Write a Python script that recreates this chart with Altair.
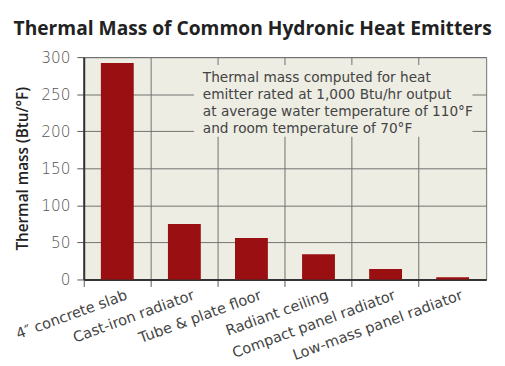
import altair as alt
import pandas as pd

categories = ["4″ concrete slab", "Cast-iron radiator", "Tube & plate floor",
              "Radiant ceiling", "Compact panel radiator", "Low-mass panel radiator"]
values = [292, 75, 56, 34, 14, 3]
note_lines = ["Thermal mass computed for heat",
              "emitter rated at 1,000 Btu/hr output",
              "at average water temperature of 110°F",
              "and room temperature of 70°F"]

df = pd.DataFrame({"emitter": categories, "mass": values})

FONT = "DejaVu Sans"
TFONT = "Open Sans"
BG = "#edede3"
GRID = "#707070"
W, H = 409, 226

xenc = alt.X("emitter:N", sort=categories, title=None,
             scale=alt.Scale(paddingInner=0, paddingOuter=0),
             axis=alt.Axis(bandPosition=0, grid=True, gridColor=GRID, gridWidth=1,
                           ticks=True, tickSize=7, tickColor="#555", tickWidth=1,
                           domainColor="#333", domainWidth=2,
                           labelAngle=-20, labelAlign="right", labelBaseline="top",
                           labelOffset=7, labelPadding=1, labelLimit=400,
                           labelFont=FONT, labelFontSize=14.8, labelColor="#444"))

bars = alt.Chart(df).mark_bar(color="#990f12", width=alt.RelativeBandSize(0.49)).encode(
    x=xenc,
    y=alt.Y("mass:Q", title="Thermal mass (Btu/°F)",
            scale=alt.Scale(domain=[0, 300], nice=False),
            axis=alt.Axis(values=[0, 50, 100, 150, 200, 250, 300], grid=True,
                          gridColor=GRID, gridWidth=1,
                          tickSize=7, tickColor="#555", domainColor="#333", domainWidth=2,
                          labelFont=FONT, labelFontSize=15.5, labelFontWeight=300,
                          labelColor="#555", labelPadding=7,
                          titleFont=TFONT, titleFontSize=15.5, titleFontWeight=600,
                          titleColor="#222", titlePadding=11))
)

box = alt.Chart(pd.DataFrame({"a": [0]})).mark_rect(color=BG, opacity=1).encode(
    x=alt.value(112), x2=alt.value(395), y=alt.value(8), y2=alt.value(81)
)

note = alt.Chart(pd.DataFrame({"t": [note_lines]})).mark_text(
    align="left", baseline="alphabetic", font=FONT, fontSize=13.9, color="#444", lineHeight=17.3
).encode(x=alt.value(121), y=alt.value(25), text="t")

chart = alt.layer(bars, box, note).properties(
    width=W, height=H,
    autosize=alt.AutoSizeParams(type="none"),
    padding={"left": 77, "top": 47, "right": 11, "bottom": 85},
    view=alt.ViewBackground(fill=BG, stroke=GRID, strokeWidth=1),
    title=alt.TitleParams("Thermal Mass of Common Hydronic Heat Emitters", anchor="start",
                          frame="bounds", font=TFONT, fontSize=19.5, fontWeight="bold",
                          color="#222", offset=11)
).configure(background="white")

chart.save("out.html", embed_options={"renderer": "svg", "actions": False})
